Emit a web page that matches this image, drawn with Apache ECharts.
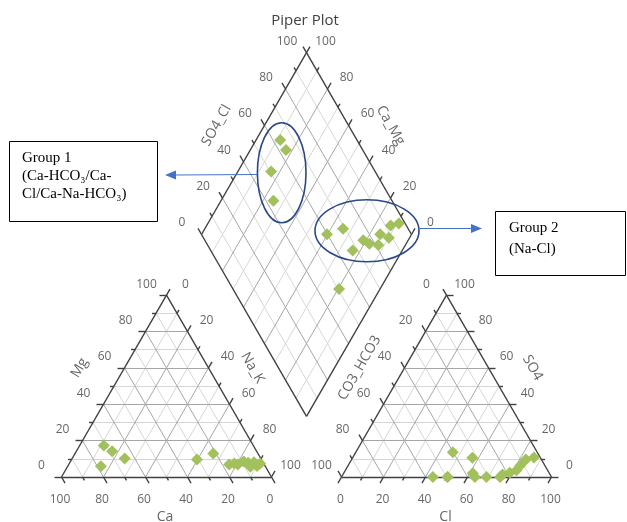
<!DOCTYPE html>
<html>
<head>
<meta charset="utf-8">
<script src="https://cdn.jsdelivr.net/npm/echarts@6/dist/echarts.min.js"></script>
<style>
  html, body { margin: 0; padding: 0; background: #ffffff; }
  #chart { width: 627px; height: 522px; }
</style>
</head>
<body>
<div id="chart"></div>
<script>
// Major ions per sample, in % of meq/L (15 samples)
const ca   = [71.2, 68.8, 78.3, 64.8, 30.7, 21.3, 16.7, 14.0, 9.0, 7.3, 7.2, 3.9, 4.3, 1.7, 12.6];
const mg   = [17.3, 14.2, 5.9, 10.2, 9.6, 12.9, 6.9, 7.4, 8.5, 5.6, 7.8, 6.0, 8.1, 7.4, 6.9];
const naK  = [11.5, 17.0, 15.8, 25.0, 59.7, 65.8, 76.4, 78.6, 82.5, 87.1, 85.0, 90.1, 87.6, 90.9, 80.5];
const hco3 = [36.5, 36.5, 49.5, 56.5, 40.2, 31.0, 32.4, 24.5, 22.6, 18.7, 14.8, 11.7, 7.4, 3.0, 49.5];
const so4  = [2.0, 0.0, 0.0, 0.0, 13.6, 0.0, 10.6, 0.0, 1.4, 2.3, 3.7, 6.3, 9.6, 10.7, 0.0];
const cl   = [61.5, 63.5, 50.5, 43.5, 46.2, 69.0, 57.0, 75.5, 76.0, 79.0, 81.5, 82.0, 83.0, 86.3, 50.5];

const tickValues = [0, 20, 40, 60, 80, 100];

// ---- Piper layout ----
const S = 210;                          // triangle side
const H = S * Math.sqrt(3) / 2;
const GAP = 70;
const BASE_Y = 477;
const CAT_X = 61.5;                     // cation triangle, left corner
const AN_X = CAT_X + S + GAP;           // anion triangle, left corner
const DB = [CAT_X + S + GAP / 2, BASE_Y - GAP * Math.sqrt(3) / 2]; // diamond bottom
const DL = [DB[0] - S / 2, DB[1] - H];
const DR = [DB[0] + S / 2, DB[1] - H];
const DT = [DB[0], DB[1] - 2 * H];

// ternary position: left corner, apex, right corner percentages
function tern(x0, left, top, right) {
  return [x0 + (right + top / 2) / 100 * S, BASE_Y - top / 100 * H];
}
// diamond position: u = SO4+Cl, v = Ca+Mg
function dia(u, v) {
  return [
    DB[0] + u / 100 * (DR[0] - DB[0]) + v / 100 * (DL[0] - DB[0]),
    DB[1] + u / 100 * (DR[1] - DB[1]) + v / 100 * (DL[1] - DB[1])
  ];
}

const minor = [], major = [], frame = [];
function seg(arr, a, b) { arr.push({ coords: [a, b] }); }

for (let k = 10; k < 100; k += 10) {
  const arr = k % 20 === 0 ? major : minor;
  [CAT_X, AN_X].forEach(function (x0) {
    seg(arr, tern(x0, 100 - k, k, 0), tern(x0, 0, k, 100 - k));
    seg(arr, tern(x0, 100 - k, 0, k), tern(x0, 0, 100 - k, k));
    seg(arr, tern(x0, k, 0, 100 - k), tern(x0, k, 100 - k, 0));
  });
  seg(arr, dia(k, 0), dia(k, 100));
  seg(arr, dia(0, k), dia(100, k));
}

// outlines
[CAT_X, AN_X].forEach(function (x0) {
  const a = tern(x0, 100, 0, 0), b = tern(x0, 0, 100, 0), c = tern(x0, 0, 0, 100);
  seg(frame, a, b); seg(frame, b, c); seg(frame, c, a);
});
seg(frame, DB, DR); seg(frame, DR, DT); seg(frame, DT, DL); seg(frame, DL, DB);

// ticks
const C60 = 0.5, S60 = Math.sqrt(3) / 2;
function tick(p, dir, len) { seg(frame, p, [p[0] + dir[0] * len, p[1] + dir[1] * len]); }
for (let k = 0; k <= 100; k += 10) {
  const len = k % 20 === 0 ? 7 : 4;
  tick(tern(CAT_X, 100 - k, k, 0), [-1, 0], len);
  tick(tern(CAT_X, 0, 100 - k, k), [C60, -S60], len);
  tick(tern(CAT_X, k, 0, 100 - k), [C60, S60], len);
  tick(tern(AN_X, k, 100 - k, 0), [-C60, -S60], len);
  tick(tern(AN_X, 0, k, 100 - k), [1, 0], len);
  tick(tern(AN_X, 100 - k, 0, k), [-C60, S60], len);
  tick(dia(k, 100), [-C60, -S60], len);
  tick(dia(100, k), [C60, -S60], len);
}

// labels
const labels = [];
function lab(text, p, dx, dy, rot, size) {
  labels.push({
    name: text,
    value: [p[0] + dx, p[1] + dy],
    label: { rotate: rot || 0, fontSize: size || 12 }
  });
}
tickValues.forEach(function (t) {
  const s = String(t);
  lab(s, tern(CAT_X, 100 - t, t, 0), -20, -11);
  lab(s, tern(CAT_X, 0, 100 - t, t), 19, -11);
  lab(s, tern(CAT_X, t, 0, 100 - t), -1.5, 23);
  lab(s, tern(AN_X, t, 100 - t, 0), -20, -11);
  lab(s, tern(AN_X, 0, t, 100 - t), 18, -11);
  lab(s, tern(AN_X, 100 - t, 0, t), -1, 23);
  lab(s, dia(t, 100), -19.5, -11.5);
  lab(s, dia(100, t), 19, -11.5);
});
lab('Mg', tern(CAT_X, 40, 60, 0), -45, 0, 60, 14);
lab('Na_K', tern(CAT_X, 0, 60, 40), 44, 0, -60, 14);
lab('Ca', tern(CAT_X, 50, 0, 50), -1.5, 40, 0, 14);
lab('CO3_HCO3', tern(AN_X, 40, 60, 0), -45, 0, 60, 14);
lab('SO4', tern(AN_X, 0, 60, 40), 44, 0, -60, 14);
lab('Cl', tern(AN_X, 50, 0, 50), -1, 40, 0, 14);
lab('SO4_Cl', dia(60, 100), -48, 0, 60, 14);
lab('Ca_Mg', dia(100, 60), 42, 0, -60, 14);

// samples plotted in the three fields
const points = [];
for (let i = 0; i < ca.length; i++) {
  points.push(tern(CAT_X, ca[i], mg[i], naK[i]));
  points.push(tern(AN_X, hco3[i], so4[i], cl[i]));
  points.push(dia(so4[i] + cl[i], ca[i] + mg[i]));
}

const chart = echarts.init(document.getElementById('chart'));
const boxFont = '15px "Liberation Serif", "DejaVu Serif", serif';
const annBlue = '#4472c4';
const ringBlue = '#2a4788';

chart.setOption({
  animation: false,
  grid: { left: 0, right: 0, top: 0, bottom: 0 },
  xAxis: { type: 'value', min: 0, max: 627, show: false },
  yAxis: { type: 'value', min: 0, max: 522, inverse: true, show: false },
  series: [
    {
      type: 'lines', coordinateSystem: 'cartesian2d', silent: true, z: 1,
      lineStyle: { color: '#d6d6d6', width: 1, opacity: 1 },
      data: minor
    },
    {
      type: 'lines', coordinateSystem: 'cartesian2d', silent: true, z: 2,
      lineStyle: { color: '#a6a6a6', width: 1, opacity: 1 },
      data: major
    },
    {
      type: 'lines', coordinateSystem: 'cartesian2d', silent: true, z: 3,
      lineStyle: { color: '#404040', width: 1.4, opacity: 1 },
      data: frame
    },
    {
      type: 'scatter', silent: true, z: 4,
      symbol: 'diamond', symbolSize: [12, 12],
      itemStyle: { color: '#a2c05c', opacity: 1 },
      data: points
    },
    {
      type: 'scatter', silent: true, z: 5,
      symbolSize: 1, itemStyle: { color: 'rgba(0,0,0,0)' },
      label: {
        show: true, position: 'inside', formatter: '{b}',
        color: '#404040', fontFamily: '"Open Sans", sans-serif', fontSize: 12
      },
      data: labels
    }
  ],
  graphic: [
    { type: 'text', x: DT[0] - 1.5, y: 21, z: 10,
      style: { text: 'Piper Plot', font: '15px "Open Sans", sans-serif', fill: '#404040', align: 'center', verticalAlign: 'middle' } },
    { type: 'ellipse', z: 10, shape: { cx: 281.7, cy: 172.7, rx: 24.3, ry: 50 },
      style: { fill: 'none', stroke: ringBlue, lineWidth: 1.6 } },
    { type: 'ellipse', z: 10, shape: { cx: 367, cy: 230.8, rx: 52, ry: 31 },
      style: { fill: 'none', stroke: ringBlue, lineWidth: 1.6 } },
    { type: 'line', z: 10, shape: { x1: 257, y1: 174.5, x2: 174, y2: 175 },
      style: { stroke: annBlue, lineWidth: 1 } },
    { type: 'polygon', z: 10, shape: { points: [[165, 175], [176, 170.5], [176, 179.5]] },
      style: { fill: annBlue } },
    { type: 'rect', z: 10, shape: { x: 9.5, y: 141.5, width: 148, height: 80 },
      style: { fill: '#ffffff', stroke: '#000000', lineWidth: 1 } },
    { type: 'text', z: 11, x: 22, y: 149,
      style: { text: 'Group 1\n(Ca-HCO\u2083/Ca-\nCl/Ca-Na-HCO\u2083)', font: boxFont, lineHeight: 18, fill: '#000000', verticalAlign: 'top' } },
    { type: 'line', z: 10, shape: { x1: 420, y1: 228.5, x2: 473, y2: 228.5 },
      style: { stroke: annBlue, lineWidth: 1 } },
    { type: 'polygon', z: 10, shape: { points: [[482, 228.5], [471, 224], [471, 233]] },
      style: { fill: annBlue } },
    { type: 'rect', z: 10, shape: { x: 495.5, y: 211.5, width: 130, height: 64 },
      style: { fill: '#ffffff', stroke: '#000000', lineWidth: 1 } },
    { type: 'text', z: 11, x: 509, y: 218,
      style: { text: 'Group 2\n(Na-Cl)', font: boxFont, lineHeight: 21, fill: '#000000', verticalAlign: 'top' } }
  ]
});
</script>
</body>
</html>
